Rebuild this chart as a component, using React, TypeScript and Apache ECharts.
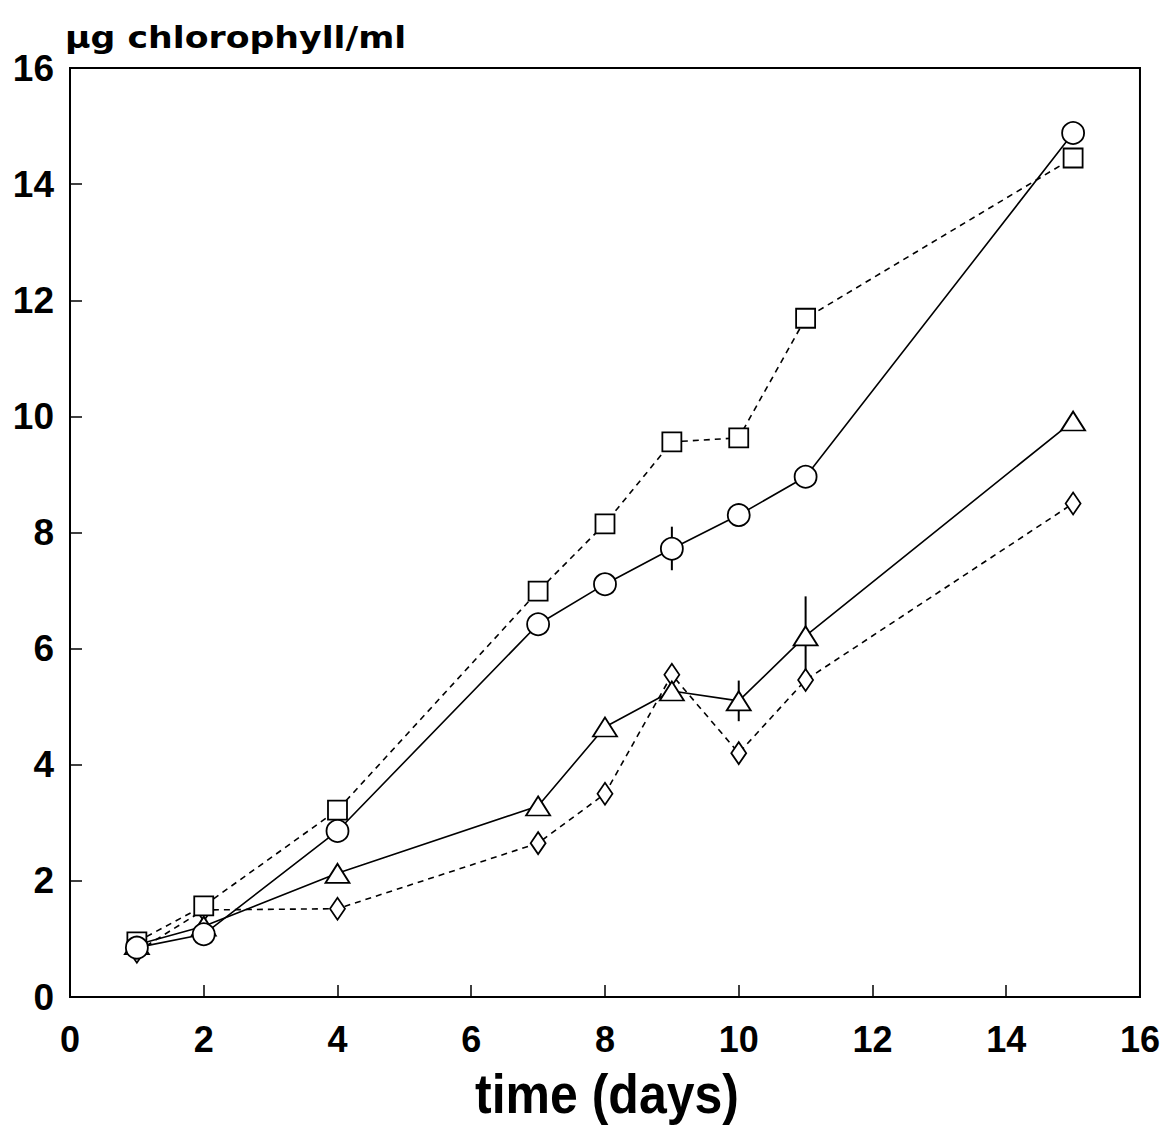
import React, { useEffect, useRef } from "react";
import * as echarts from "echarts";

const days = [1, 2, 4, 7, 8, 9, 10, 11, 15];
const circleVals = [0.85, 1.08, 2.86, 6.42, 7.11, 7.72, 8.3, 8.96, 14.88];
const squareVals = [0.95, 1.57, 3.22, 6.99, 8.15, 9.56, 9.63, 11.69, 14.45];
const triangleVals = [0.9, 1.22, 2.13, 3.29, 4.65, 5.27, 5.1, 6.22, 9.92];
const diamondVals = [0.78, 1.5, 1.52, 2.65, 3.5, 5.55, 4.2, 5.46, 8.5];
// error bars: [day, low, high]
const errorBars = [
  [9, 7.35, 8.1],
  [10, 4.75, 5.45],
  [11, 5.5, 6.9],
];
const xTicks = [0, 2, 4, 6, 8, 10, 12, 14, 16];
const yTicks = [0, 2, 4, 6, 8, 10, 12, 14, 16];
const yTitle = "µg chlorophyll/ml";
const xTitle = "time (days)";

const pair = (vals: number[]) => days.map((d, i) => [d, vals[i]]);

export default function App() {
  const ref = useRef<HTMLDivElement>(null);
  useEffect(() => {
    if (!ref.current) return;
    const chart = echarts.init(ref.current, undefined, { renderer: "svg" });
    const font = "'Liberation Sans', Arial, sans-serif";
    const markerStyle = { color: "#fff", borderColor: "#000", borderWidth: 1.8 };
    const mk = (name: string, vals: number[], symbol: string, size: any, dashed: boolean) => ({
      name,
      type: "line",
      data: pair(vals),
      symbol,
      symbolSize: size,
      showAllSymbol: true,
      lineStyle: { color: "#000", width: 1.6, type: dashed ? [6, 5] : "solid" },
      itemStyle: markerStyle,
      z: 3,
    });
    chart.setOption({
      animation: false,
      backgroundColor: "#fff",
      grid: { left: 70, right: 22, top: 68, bottom: 136, show: true, borderColor: "#000", borderWidth: 2 },
      graphic: [
        {
          type: "text",
          x: 65,
          y: 37,
          scaleX: 1.12,
          style: {
            text: yTitle,
            font: `bold 31px 'DejaVu Sans', sans-serif`,
            fill: "#000",
            align: "left",
            verticalAlign: "middle",
          },
        },
        {
          type: "text",
          x: 607,
          y: 1094,
          scaleY: 1.1,
          style: {
            text: xTitle,
            font: `bold 50px ${font}`,
            fill: "#000",
            align: "center",
            verticalAlign: "middle",
          },
        },
      ],
      xAxis: {
        type: "value",
        min: 0,
        max: 16,
        interval: 2,
        splitLine: { show: false },
        axisLine: { show: true, lineStyle: { color: "#000", width: 2 } },
        axisTick: { show: true, inside: true, length: 12, lineStyle: { color: "#000", width: 1.5 } },
        axisLabel: {
          margin: 24,
          color: "#000",
          fontFamily: font,
          fontWeight: "bold",
          fontSize: 36,
          formatter: (v: number) => (xTicks.includes(v) ? String(v) : ""),
        },
      },
      yAxis: {
        type: "value",
        min: 0,
        max: 16,
        interval: 2,
        splitLine: { show: false },
        axisLine: { show: true, lineStyle: { color: "#000", width: 2 } },
        axisTick: { show: true, inside: true, length: 12, lineStyle: { color: "#000", width: 1.5 } },
        axisLabel: {
          margin: 16,
          color: "#000",
          fontFamily: font,
          fontWeight: "bold",
          fontSize: 37,
          formatter: (v: number) => (yTicks.includes(v) ? String(v) : ""),
        },
      },
      series: [
        {
          type: "custom",
          data: errorBars,
          z: 1,
          renderItem: (params: any, api: any) => {
            const lo = api.coord([api.value(0), api.value(1)]);
            const hi = api.coord([api.value(0), api.value(2)]);
            return {
              type: "line",
              shape: { x1: lo[0], y1: lo[1], x2: hi[0], y2: hi[1] },
              style: { stroke: "#000", lineWidth: 2 },
            };
          },
        },
        mk("diamond", diamondVals, "diamond", [15, 22], true),
        mk("triangle", triangleVals, "triangle", [24, 19], false),
        mk("square", squareVals, "rect", [19, 19], true),
        mk("circle", circleVals, "circle", [22, 22], false),
      ],
    });
    return () => chart.dispose();
  }, []);
  return <div ref={ref} style={{ width: 1163, height: 1133, position: "absolute", left: 0, top: 0 }} />;
}
